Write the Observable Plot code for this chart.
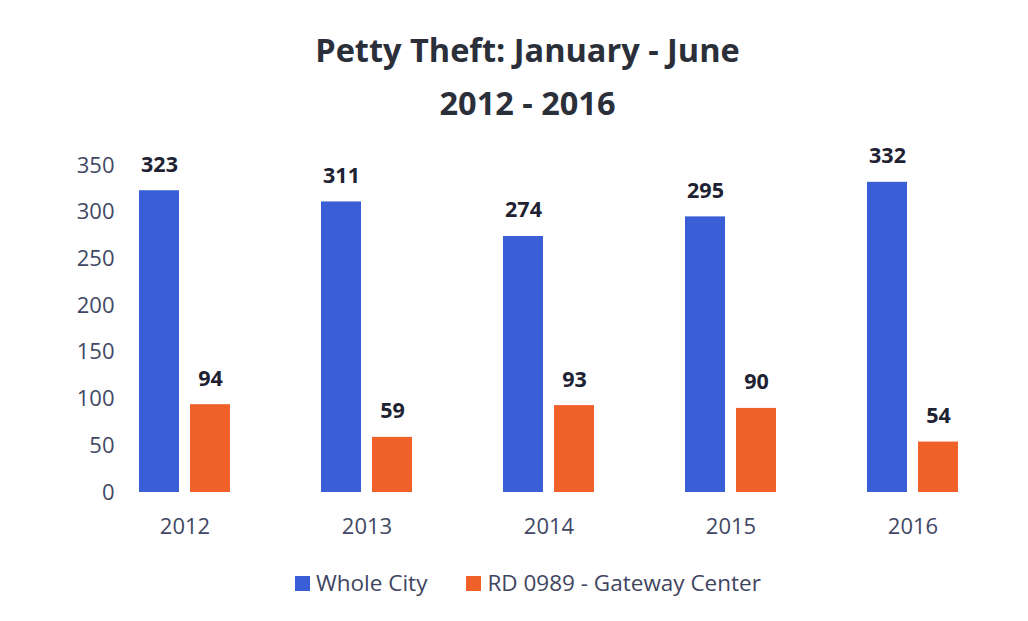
<!DOCTYPE html>
<html>
<head>
<meta charset="utf-8">
<script src="https://cdn.jsdelivr.net/npm/d3@7"></script>
<script src="https://cdn.jsdelivr.net/npm/@observablehq/plot@0.6"></script>
<style>
  html, body { margin: 0; padding: 0; background: #ffffff; }
  #page { position: relative; width: 1028px; height: 621px; overflow: hidden; font-family: "Open Sans", sans-serif; }
  #title { position: absolute; left: 0; top: 23px; width: 1028px; text-align: center; font-size: 32.5px; font-weight: bold; line-height: 53px; color: #2b2f3a; padding-left: 27px; box-sizing: border-box; }
  #chart { position: absolute; left: 0; top: 130px; }
  #legend { position: absolute; left: 295px; top: 569px; display: flex; align-items: center; font-size: 22.5px; color: #3f4560; line-height: 28px; }
  .item { display: flex; align-items: center; }
  .sw { width: 15px; height: 15px; margin-right: 6px; }
</style>
</head>
<body>
<div id="page">
  <div id="title">Petty Theft: January - June<br>2012 - 2016</div>
  <div id="chart"></div>
  <div id="legend"></div>
</div>
<script>
const years = ["2012", "2013", "2014", "2015", "2016"];
const wholeCity = [323, 311, 274, 295, 332];
const gateway = [94, 59, 93, 90, 54];
const seriesNames = ["Whole City", "RD 0989 - Gateway Center"];
const colors = ["#3a5ed6", "#f0612a"];
const yTicks = [0, 50, 100, 150, 200, 250, 300, 350];

const data = years.flatMap((yr, i) => [
  { year: yr, series: seriesNames[0], value: wholeCity[i] },
  { year: yr, series: seriesNames[1], value: gateway[i] }
]);

const chart = Plot.plot({
  width: 1028,
  height: 420,
  marginLeft: 91,
  marginRight: 23,
  marginTop: 35,
  marginBottom: 58,
  style: { fontFamily: "'Open Sans', sans-serif", fontSize: "22px", color: "#414865", background: "transparent" },
  fx: { domain: years, paddingInner: 0.491, paddingOuter: 0.2455, axis: "bottom", tickSize: 0, tickPadding: 26, label: null },
  x: { domain: seriesNames, paddingInner: 0.21, paddingOuter: 0, axis: null },
  y: { domain: [0, 350], ticks: yTicks, tickSize: 0, tickPadding: 24, label: null },
  color: { domain: seriesNames, range: colors },
  marks: [
    Plot.barY(data, { fx: "year", x: "series", y: "value", fill: "series" }),
    Plot.text(data, { fx: "year", x: "series", y: "value", text: d => String(d.value), dy: -26, fontWeight: "bold", fill: "#1e2232", fontSize: 21.5 })
  ]
});
document.getElementById("chart").appendChild(chart);

const legend = document.getElementById("legend");
seriesNames.forEach((name, i) => {
  const item = document.createElement("div");
  item.className = "item";
  if (i > 0) item.style.marginLeft = "39px";
  const sw = document.createElement("div");
  sw.className = "sw";
  sw.style.background = colors[i];
  const label = document.createElement("span");
  label.textContent = name;
  item.appendChild(sw);
  item.appendChild(label);
  legend.appendChild(item);
});
</script>
</body>
</html>
